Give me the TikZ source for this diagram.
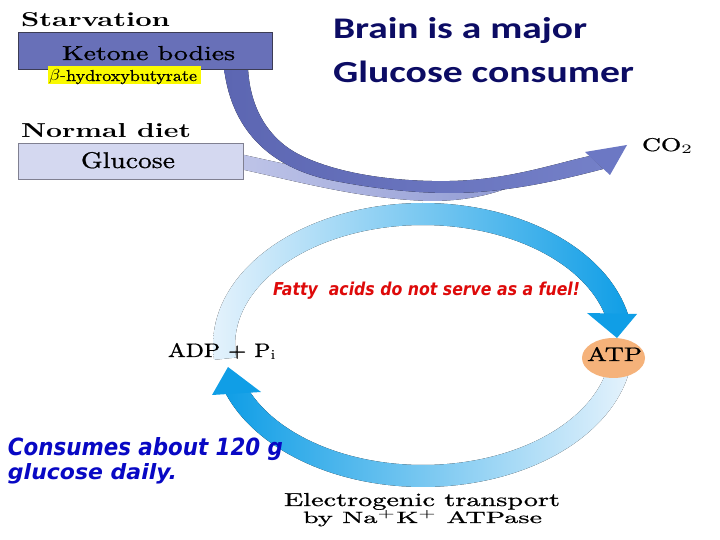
\documentclass[tikz,border=0pt]{standalone}
\usepackage{fontspec}
\usepackage{graphicx}
\usetikzlibrary{shapes.geometric}
\newfontfamily\titlefont{Carlito}
\newfontfamily\dvsans{DejaVu Sans}
\newfontfamily\lmthick{lmroman10-regular}[Extension=.otf, FakeBold=0.8]
\definecolor{ketfill}{RGB}{104,112,184}
\definecolor{ketdraw}{RGB}{60,60,84}
\definecolor{glcfill}{RGB}{212,216,240}
\definecolor{glcdraw}{RGB}{128,128,145}
\definecolor{hiyel}{RGB}{250,250,0}
\definecolor{glcA}{RGB}{190,196,232}
\definecolor{glcB}{RGB}{146,156,212}
\definecolor{bandL}{RGB}{92,102,178}
\definecolor{bandM}{RGB}{42,54,142}
\definecolor{bandR}{RGB}{116,128,200}
\definecolor{headc}{RGB}{108,120,196}
\definecolor{ringblue}{RGB}{16,158,230}
\definecolor{ringpale}{RGB}{228,242,252}
\definecolor{atpfill}{RGB}{245,178,122}
\definecolor{titlecol}{RGB}{12,12,100}
\definecolor{redtxt}{RGB}{222,10,10}
\definecolor{bluetxt}{RGB}{8,8,196}
\newcommand{\fitbox}[3]{\resizebox{#1pt}{#2pt}{#3}}
\tikzset{
  txt/.style={anchor=base west, inner sep=0pt, outer sep=0pt},
  boxnode/.style={anchor=south west, inner sep=0pt, line width=1pt}
}
\begin{document}
\begin{tikzpicture}[x=1pt,y=1pt]
\useasboundingbox (0,0) rectangle (720,540);
\fill[white] (0,0) rectangle (720,540);

% glucose band (normal diet)
\fill[left color=glcA, right color=glcB] (240,386) .. controls (310,370) and (380,356) .. (460,354) -- (505,351) .. controls (480,342) and (455,339) .. (430,339) .. controls (360,341) and (300,358) .. (240,371) -- cycle;

% ketone band (starvation)
\fill[left color=bandL, middle color=bandM, right color=bandR] (224,472) .. controls (230,420) and (260,375) .. (330,360) .. controls (380,350) and (420,347) .. (450,347) .. controls (500,347) and (550,357) .. (603,371) -- (590,384) .. controls (560,378) and (510,360) .. (450,359) .. controls (400,358) and (340,365) .. (300,385) .. controls (270,400) and (250,430) .. (248,472) -- cycle;
\fill[headc] (585,388) -- (627,395) -- (610,365) -- cycle;
\coordinate (co2tip) at (627,395);

% boxes
\node[boxnode, draw=ketdraw, fill=ketfill, minimum width=254pt, minimum height=37pt] (ketbox) at (18,470) {};
\node[boxnode, draw=glcdraw, fill=glcfill, minimum width=225pt, minimum height=36pt] (glcbox) at (18,360) {};
\node[boxnode, fill=hiyel, minimum width=153pt, minimum height=18pt] (hilite) at (47,455) {};

% ring: upper arc
\fill[left color=ringpale, right color=ringblue]
  plot[domain=186:12, samples=70] ({423+210*cos(\x)},{195+142*sin(\x)})
  -- plot[domain=12:186, samples=70] ({423+188*cos(\x)},{195+120*sin(\x)}) -- cycle;
\fill[ringblue] (587,227) -- (637,226) -- (617,202) -- cycle;
% ring: lower arc
\fill[left color=ringblue, right color=ringpale]
  plot[domain=-160:-12, samples=70] ({423+210*cos(\x)},{195+142*sin(\x)})
  -- plot[domain=-12:-160, samples=70] ({423+188*cos(\x)},{195+120*sin(\x)}) -- cycle;
\fill[ringblue] (212,145) -- (261,148) -- (228,173) -- cycle;

% ATP
\node[ellipse, fill=atpfill, minimum width=63pt, minimum height=40pt, inner sep=0pt] (atpell) at (613.5,182) {};
\node[txt] (atp) at (587,179) {\fitbox{55}{14}{\lmthick ATP}};

% texts
\node[txt] (starv) at (21,513) {\fitbox{149}{14}{\bfseries Starvation}};
\node[txt] (keto) at (62,480) {\fitbox{173}{14}{\lmthick Ketone bodies}};
\node[txt] (bhb) at (49,459) {\fitbox{148}{11}{$\beta$-\lmthick hydroxybutyrate}};
\node[txt] (normal) at (21,402) {\fitbox{170}{14}{\bfseries Normal diet}};
\node[txt] (gluc) at (81,372) {\fitbox{94}{16}{\lmthick Glucose}};
\node[txt] (co2) at (642,389) {\fitbox{51}{13}{\lmthick CO$_{\mathrm{2}}$}};
\node[txt] (adp) at (168,183) {\fitbox{109}{14}{\lmthick ADP + P$_{\mathrm{i}}$}};
\node[txt] (elec1) at (284,34) {\fitbox{276}{13}{\lmthick Electrogenic transport}};
\node[txt] (elec2) at (303,17) {\fitbox{239}{13}{\lmthick by Na$^{+}$K$^{+}$ ATPase}};

\node[txt, text=titlecol] (title1) at (333,501) {\fitbox{254}{21}{\titlefont\bfseries Brain is a major}};
\node[txt, text=titlecol] (title2) at (333,457) {\fitbox{301}{21.5}{\titlefont\bfseries Glucose consumer}};

\node[txt, text=redtxt] (fatty) at (273,244) {\fitbox{307}{13.5}{\dvsans\bfseries\itshape Fatty\ \ acids do not serve as a fuel!}};
\node[txt, text=bluetxt] (cons1) at (8,84) {\fitbox{275}{18}{\dvsans\bfseries\itshape Consumes about 120 g}};
\node[txt, text=bluetxt] (cons2) at (8,60) {\fitbox{169}{16}{\dvsans\bfseries\itshape glucose daily.}};
\end{tikzpicture}
\end{document}
